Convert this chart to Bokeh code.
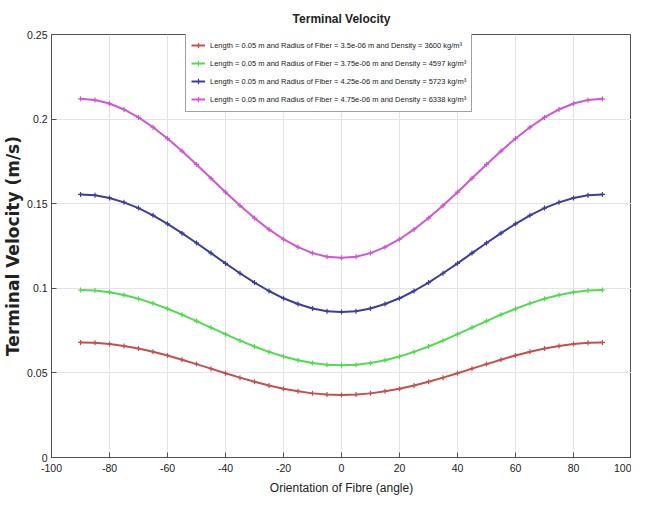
from bokeh.plotting import figure
from bokeh.models import Range1d, FixedTicker, Legend, LegendItem, Title
from bokeh.embed import file_html
from bokeh.resources import INLINE

# ---------------- data ----------------
angle = [-90, -85, -80, -75, -70, -65, -60, -55, -50, -45, -40, -35, -30, -25, -20, -15, -10, -5,
         0, 5, 10, 15, 20, 25, 30, 35, 40, 45, 50, 55, 60, 65, 70, 75, 80, 85, 90]

v_red = [0.0680, 0.0678, 0.0671, 0.0659, 0.0644, 0.0625, 0.0603, 0.0578, 0.0552, 0.0525,
         0.0498, 0.0472, 0.0448, 0.0425, 0.0406, 0.0391, 0.0379, 0.0372,
         0.0370,
         0.0372, 0.0379, 0.0391, 0.0406, 0.0425, 0.0448, 0.0472, 0.0498,
         0.0525, 0.0552, 0.0578, 0.0603, 0.0625, 0.0644, 0.0659, 0.0671, 0.0678, 0.0680]
v_green = [0.0990, 0.0987, 0.0977, 0.0960, 0.0938, 0.0911, 0.0879, 0.0844, 0.0806, 0.0768,
           0.0729, 0.0691, 0.0656, 0.0624, 0.0597, 0.0575, 0.0558, 0.0548,
           0.0545,
           0.0548, 0.0558, 0.0575, 0.0597, 0.0624, 0.0656, 0.0691, 0.0729,
           0.0768, 0.0806, 0.0844, 0.0879, 0.0911, 0.0938, 0.0960, 0.0977, 0.0987, 0.0990]
v_blue = [0.1555, 0.1550, 0.1534, 0.1508, 0.1474, 0.1431, 0.1381, 0.1326, 0.1268, 0.1208,
          0.1147, 0.1089, 0.1034, 0.0984, 0.0941, 0.0907, 0.0881, 0.0865,
          0.0860,
          0.0865, 0.0881, 0.0907, 0.0941, 0.0984, 0.1034, 0.1089, 0.1147,
          0.1208, 0.1268, 0.1326, 0.1381, 0.1431, 0.1474, 0.1508, 0.1534, 0.1550, 0.1555]
v_magenta = [0.2120, 0.2113, 0.2092, 0.2057, 0.2010, 0.1952, 0.1885, 0.1811, 0.1732, 0.1650,
             0.1568, 0.1489, 0.1415, 0.1348, 0.1290, 0.1243, 0.1208, 0.1187,
             0.1180,
             0.1187, 0.1208, 0.1243, 0.1290, 0.1348, 0.1415, 0.1489, 0.1568,
             0.1650, 0.1732, 0.1811, 0.1885, 0.1952, 0.2010, 0.2057, 0.2092, 0.2113, 0.2120]

series_labels = [
    "Length = 0.05 m and Radius of Fiber = 3.5e-06 m and Density = 3600 kg/m\u00b3",
    "Length = 0.05 m and Radius of Fiber = 3.75e-06 m and Density = 4597 kg/m\u00b3",
    "Length = 0.05 m and Radius of Fiber = 4.25e-06 m and Density = 5723 kg/m\u00b3",
    "Length = 0.05 m and Radius of Fiber = 4.75e-06 m and Density = 6338 kg/m\u00b3",
]
series_values = [v_red, v_green, v_blue, v_magenta]
series_colors = ["#c4504e", "#4fdc4f", "#3d3d9e", "#d256d2"]

x_ticks = [-100, -80, -60, -40, -20, 0, 20, 40, 60, 80, 100]
x_tick_labels = ["-100", "-80", "-60", "-40", "-20", "0", "20", "40", "60", "80", "100"]
y_ticks = [0, 0.05, 0.1, 0.15, 0.2, 0.25]
y_tick_labels = ["0", "0.05", "0.1", "0.15", "0.2", "0.25"]

title_text = "Terminal Velocity"
x_label = "Orientation of Fibre (angle)"
y_label = "Terminal Velocity (m/s)"

# ---------------- figure ----------------
FONT = "Liberation Sans"
AX = "#505050"

p = figure(width=631, height=504, output_backend="svg", toolbar_location=None,
           x_range=Range1d(-100, 100), y_range=Range1d(0, 0.25),
           min_border_left=49, min_border_right=0, min_border_top=33, min_border_bottom=47)
p.title = Title(text=title_text, align="center", text_font=FONT, text_font_size="12px",
                text_font_style="bold", text_color="#222222", offset=0, standoff=18)
p.outline_line_color = AX
p.outline_line_width = 1
p.background_fill_color = "white"

renderers = []
for vals, col in zip(series_values, series_colors):
    r1 = p.line(angle, vals, line_color=col, line_width=2)
    r2 = p.scatter(angle, vals, marker="cross", size=5, line_color=col, line_width=1.2)
    renderers.append([r1, r2])

for ax in [p.xaxis[0], p.yaxis[0]]:
    ax.axis_line_color = AX
    ax.major_tick_line_color = AX
    ax.major_tick_in = 5
    ax.major_tick_out = 0
    ax.minor_tick_line_color = None
    ax.major_label_text_font = FONT
    ax.major_label_text_font_size = "10.5px"
    ax.major_label_text_color = "#222222"
    ax.axis_label_text_color = "#222222"

p.xaxis[0].ticker = FixedTicker(ticks=x_ticks)
p.yaxis[0].ticker = FixedTicker(ticks=y_ticks)
p.xaxis[0].major_label_overrides = {t: s for t, s in zip(x_ticks, x_tick_labels)}
p.yaxis[0].major_label_overrides = {t: s for t, s in zip(y_ticks, y_tick_labels)}
p.xaxis[0].major_label_standoff = 6
p.yaxis[0].major_label_standoff = 4

p.xaxis[0].axis_label = x_label
p.xaxis[0].axis_label_text_font = FONT
p.xaxis[0].axis_label_text_font_size = "12px"
p.xaxis[0].axis_label_text_font_style = "normal"
p.xaxis[0].axis_label_standoff = 6

p.yaxis[0].axis_label = y_label
p.yaxis[0].axis_label_text_font = "DejaVu Sans"
p.yaxis[0].axis_label_text_font_size = "17px"
p.yaxis[0].axis_label_text_font_style = "bold"
p.yaxis[0].axis_label_standoff = 1

p.xgrid.ticker = FixedTicker(ticks=x_ticks)
p.ygrid.ticker = FixedTicker(ticks=y_ticks)
p.grid.grid_line_color = "#e4e4e4"
p.grid.grid_line_width = 1

legend = Legend(items=[LegendItem(label=lab, renderers=rs) for lab, rs in zip(series_labels, renderers)],
                location=(134, 345))
legend.label_text_font = FONT
legend.label_text_font_size = "7.5px"
legend.label_text_color = "#222222"
legend.label_height = 14
legend.glyph_height = 14
legend.glyph_width = 14
legend.spacing = 4
legend.padding = 5
legend.margin = 0
legend.border_line_color = "#444444"
legend.border_line_width = 1
legend.background_fill_alpha = 1
p.add_layout(legend, "center")

open("out.html", "w").write(file_html(p, INLINE))
